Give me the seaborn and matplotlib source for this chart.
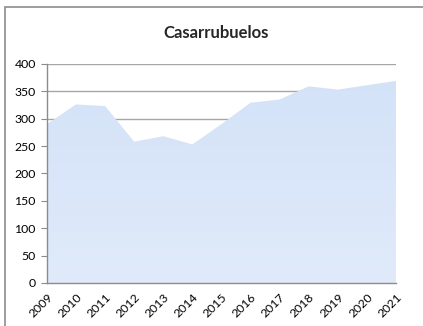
import numpy as np
import pandas as pd
import matplotlib
matplotlib.use("Agg")
import matplotlib.pyplot as plt
from matplotlib.patches import Rectangle
import seaborn as sns

years = ["2009", "2010", "2011", "2012", "2013", "2014", "2015",
         "2016", "2017", "2018", "2019", "2020", "2021"]
population = [290, 326, 323, 258, 268, 253, 290, 329, 335, 359, 353, 361, 369]
y_ticks = [0, 50, 100, 150, 200, 250, 300, 350, 400]

sns.set_style("white")
plt.rcParams["font.family"] = ["Lato", "DejaVu Sans"]

df = pd.DataFrame({"year": years, "value": population})
df["pos"] = np.arange(len(years))

fig = plt.figure(figsize=(4.23, 3.26), dpi=100)
ax = fig.add_axes([0.111, 0.132, 0.825, 0.672])

# gridlines sit behind the area
for t in y_ticks[1:]:
    ax.axhline(t, color="#a6a6a6", lw=1.0, zorder=0)

sns.lineplot(data=df, x="pos", y="value", ax=ax, lw=0, color="#d6e4f8", zorder=2)

# vertical gradient fill clipped to the area shape
area = ax.fill_between(df["pos"], 0, df["value"], color="none", lw=0, zorder=2)
grad = np.linspace(0, 1, 256).reshape(-1, 1)
cmap = matplotlib.colors.LinearSegmentedColormap.from_list("g", ["#e0eafa", "#d3e2f8"])
img = ax.imshow(grad, cmap=cmap, aspect="auto", origin="lower",
                extent=[0, len(years) - 1, 0, 400], zorder=2)
path = area.get_paths()[0]
img.set_clip_path(path, transform=ax.transData)

ax.set_xlim(0, len(years) - 1)
ax.set_ylim(0, 400)
ax.set_yticks(y_ticks)
ax.set_xticks(df["pos"])
ax.set_xticklabels(years, rotation=45, ha="right", rotation_mode="anchor")
ax.tick_params(axis="y", labelsize=8.8, length=4, width=0.8, color="#8c8c8c",
               pad=4, left=True, labelcolor="black")
ax.tick_params(axis="x", labelsize=8.8, length=0, pad=6, labelcolor="black")
ax.set_xlabel("")
ax.set_ylabel("")

for side in ["top", "right"]:
    ax.spines[side].set_visible(False)
for side in ["left", "bottom"]:
    ax.spines[side].set_color("#8c8c8c")
    ax.spines[side].set_linewidth(1.0)
    ax.spines[side].set_zorder(3)

fig.text(216 / 423, 1 - 33 / 326, "Casarrubuelos", ha="center", va="center",
         fontsize=12, fontweight="bold")

# chart frame
fig.patches.append(Rectangle((5 / 423, -0.1), 1.2, 1 - 7 / 326 + 0.1,
                             transform=fig.transFigure, fill=False,
                             edgecolor="#8c8c8c", lw=1.2))

fig.savefig("out.png", dpi=100)
